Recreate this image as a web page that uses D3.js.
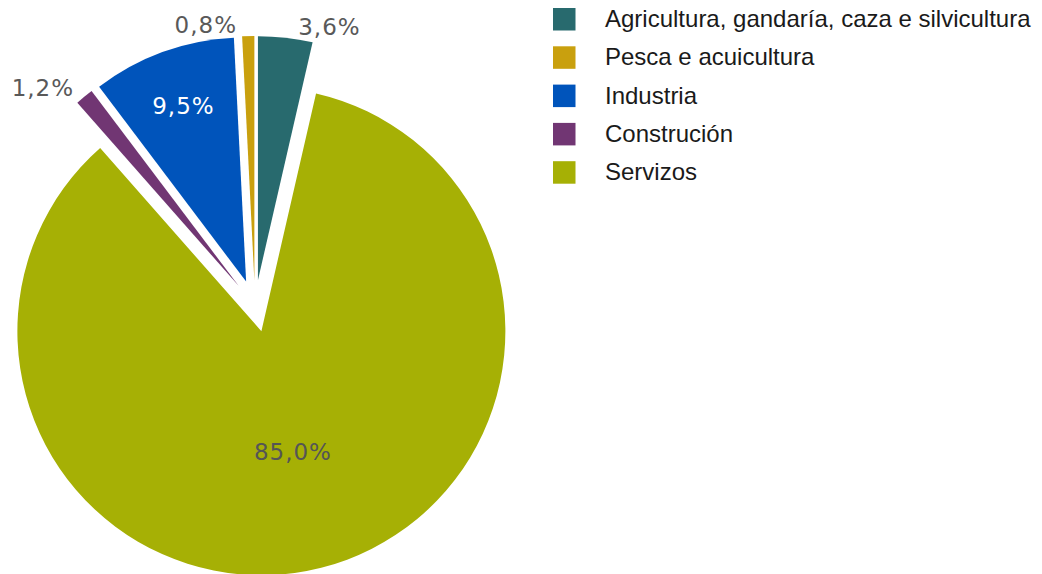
<!DOCTYPE html>
<html>
<head>
<meta charset="utf-8">
<script src="https://cdn.jsdelivr.net/npm/d3@7.9.0/dist/d3.min.js"></script>
<style>
  html, body { margin: 0; padding: 0; background: #fff; }
  svg { display: block; }
  .pct { font-family: "DejaVu Sans", Verdana, sans-serif; font-size: 23px; letter-spacing: 1px; }
  .legend text { font-family: "Liberation Sans", Arial, sans-serif; font-size: 24px; fill: #1a1a1a; }
</style>
</head>
<body>
<svg width="1042" height="574"></svg>
<script>
// sectors, in the order the chart lists them
const categories = [
  "Agricultura, gandaría, caza e silvicultura",
  "Pesca e acuicultura",
  "Industria",
  "Construción",
  "Servizos"
];
const shares = [3.6, 0.8, 9.5, 1.2, 85.0];
const shareLabels = ["3,6%", "0,8%", "9,5%", "1,2%", "85,0%"];
const colors = ["#286a6e", "#c9a00e", "#0054bb", "#713673", "#a6b005"];

const svg = d3.select("svg");
const cx = 255, cy = 306, radius = 244, explode = 26;

// slices go counter-clockwise, first one ends at 12 o'clock
const total = d3.sum(shares);
const start = (shares[0] / total) * 2 * Math.PI;
const pie = d3.pie().sort(null).value((d) => d)
  .startAngle(start).endAngle(start - 2 * Math.PI);
const arcData = pie(shares);
const arc = d3.arc().innerRadius(0).outerRadius(radius);

const mid = (d) => (d.startAngle + d.endAngle) / 2;

const g = svg.append("g").attr("transform", `translate(${cx},${cy})`);

const slices = g.selectAll("g.slice")
  .data(arcData)
  .join("g")
  .attr("class", "slice")
  .attr("transform", (d) => {
    const a = mid(d);
    return `translate(${explode * Math.sin(a)},${-explode * Math.cos(a)})`;
  });

slices.append("path")
  .attr("d", arc)
  .attr("fill", (d, i) => colors[i]);

// labels: small slices outside, big ones inside
const insideAt = { 2: 0.765, 4: 0.51 };
slices.append("text")
  .attr("class", "pct")
  .text((d, i) => shareLabels[i])
  .each(function (d, i) {
    const a = mid(d);
    const s = Math.sin(a), c = Math.cos(a);
    const t = d3.select(this);
    if (insideAt[i] !== undefined) {
      const r = radius * insideAt[i];
      t.attr("x", r * s + 1).attr("y", -r * c)
        .attr("text-anchor", "middle")
        .attr("dy", "0.36em")
        .attr("fill", i === 2 ? "#ffffff" : "#555555");
    } else {
      const r = radius + 9;
      const gap = 12 * Math.pow(Math.abs(c), 3);
      t.attr("x", r * s + (s > 0 ? gap : -gap + 1)).attr("y", -r * c - 2)
        .attr("text-anchor", s > 0 ? "start" : "end")
        .attr("dy", "0.36em")
        .attr("fill", "#595959");
    }
  });

// legend
const legend = svg.append("g").attr("class", "legend")
  .attr("transform", "translate(553,8)");
const rows = legend.selectAll("g")
  .data(categories)
  .join("g")
  .attr("transform", (d, i) => `translate(0,${i * 38.3})`);
rows.append("rect")
  .attr("width", 22.5).attr("height", 22.5)
  .attr("fill", (d, i) => colors[i]);
rows.append("text")
  .attr("x", 52).attr("y", 19)
  .text((d) => d);
</script>
</body>
</html>
